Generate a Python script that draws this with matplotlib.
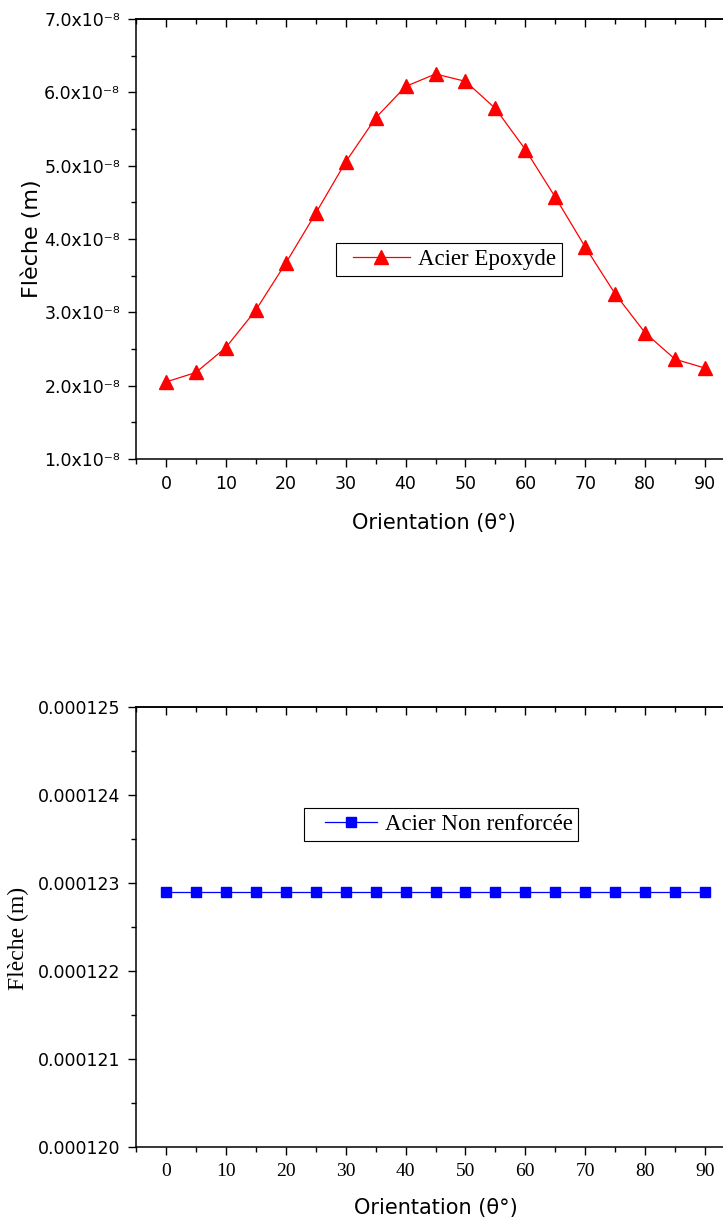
import matplotlib
matplotlib.use('Agg')
import matplotlib.pyplot as plt
from matplotlib.ticker import MultipleLocator, FuncFormatter
from matplotlib.legend_handler import HandlerLine2D

# ---- data ----
orientation = [0, 5, 10, 15, 20, 25, 30, 35, 40, 45, 50, 55, 60, 65, 70, 75, 80, 85, 90]
fleche_epoxyde = [2.05e-8, 2.18e-8, 2.52e-8, 3.03e-8, 3.67e-8, 4.35e-8, 5.05e-8, 5.65e-8,
                  6.08e-8, 6.25e-8, 6.15e-8, 5.78e-8, 5.22e-8, 4.57e-8, 3.89e-8, 3.25e-8,
                  2.72e-8, 2.36e-8, 2.24e-8]
fleche_non_renforcee = [1.229e-4, 1.229e-4, 1.229e-4, 1.229e-4, 1.229e-4, 1.229e-4, 1.229e-4,
                        1.229e-4, 1.229e-4, 1.229e-4, 1.229e-4, 1.229e-4, 1.229e-4, 1.229e-4,
                        1.229e-4, 1.229e-4, 1.229e-4, 1.229e-4, 1.229e-4]
label_epoxyde = "Acier Epoxyde"
label_non_renf = "Acier Non renforcée"
xlabel = "Orientation (θ°)"
ylabel = "Flèche (m)"

W, H = 723, 1222
fig = plt.figure(figsize=(W / 100, H / 100), dpi=100)

SANS = ['DejaVu Sans']
SERIF = ['Liberation Serif', 'DejaVu Serif']


def style_axes(ax, xfam, yfam):
    for s in ['left', 'bottom', 'top']:
        ax.spines[s].set_linewidth(1.1)
    ax.spines['right'].set_visible(False)
    ax.set_xlim(-5, 95)
    ax.xaxis.set_major_locator(MultipleLocator(10))
    ax.xaxis.set_minor_locator(MultipleLocator(5))
    ax.tick_params(axis='both', which='major', direction='out', length=6, width=1.0, pad=5.5)
    ax.tick_params(axis='both', which='minor', direction='out', length=3.3, width=1.0)
    ax.tick_params(axis='x', labelsize=14 if xfam == SERIF else 12.5, labelfontfamily=xfam[0])
    ax.tick_params(axis='y', labelsize=12.5, labelfontfamily=yfam[0])
    sec = ax.secondary_xaxis('top')
    sec.spines['top'].set_linewidth(1.1)
    sec.xaxis.set_major_locator(MultipleLocator(10))
    sec.xaxis.set_minor_locator(MultipleLocator(5))
    sec.tick_params(which='major', direction='in', length=6, width=1.0, labeltop=False)
    sec.tick_params(which='minor', direction='in', length=3.3, width=1.0)


# ---- top chart ----
ax1 = fig.add_axes([136 / W, 1 - 459 / H, 599 / W, 440 / H])
ax1.plot(orientation, fleche_epoxyde, color='#FF0000', linewidth=0.9, marker='^',
         markersize=10, markeredgecolor='#FF0000', markerfacecolor='#FF0000',
         label=label_epoxyde)
ax1.set_ylim(1e-8, 7e-8)
ax1.yaxis.set_major_locator(MultipleLocator(1e-8))
ax1.yaxis.set_minor_locator(MultipleLocator(0.5e-8))
ax1.yaxis.set_major_formatter(FuncFormatter(lambda v, p: f"{v * 1e8:.1f}x10\u207b\u2078"))
style_axes(ax1, SANS, SANS)
ax1.set_ylabel(ylabel, fontsize=16, family=SANS)
ax1.yaxis.set_label_coords(-0.157, 0.5)
ax1.set_xlabel(xlabel, fontsize=15, family=SANS)
ax1.xaxis.set_label_coords(0.4975, -0.123)

leg1 = ax1.legend(loc='upper left', bbox_to_anchor=(336 / W, 1 - 243 / H),
                  bbox_transform=fig.transFigure, borderaxespad=0, borderpad=0.25,
                  handlelength=2.97, handletextpad=0.35, frameon=True, fancybox=False,
                  framealpha=1, edgecolor='black', prop={'family': SERIF, 'size': 16.5},
                  handler_map={ax1.lines[0]: HandlerLine2D(xpad=0.49)})
leg1.get_frame().set_linewidth(0.8)

# ---- bottom chart ----
ax2 = fig.add_axes([136 / W, 1 - 1147 / H, 599 / W, 440 / H])
ax2.plot(orientation, fleche_non_renforcee, color='#0000FF', linewidth=0.9, marker='s',
         markersize=7.2, markeredgecolor='#0000FF', markerfacecolor='#0000FF',
         label=label_non_renf)
ax2.set_ylim(1.20e-4, 1.25e-4)
ax2.yaxis.set_major_locator(MultipleLocator(1e-6))
ax2.yaxis.set_minor_locator(MultipleLocator(0.5e-6))
ax2.yaxis.set_major_formatter(FuncFormatter(lambda v, p: f"{v:.6f}"))
style_axes(ax2, SERIF, SANS)
ax2.set_ylabel(ylabel, fontsize=17, family=SERIF)
ax2.yaxis.set_label_coords(-0.179, 0.473)
ax2.set_xlabel(xlabel, fontsize=15, family=SANS)
ax2.xaxis.set_label_coords(0.5, -0.117)

leg2 = ax2.legend(loc='upper left', bbox_to_anchor=(304 / W, 1 - 808 / H),
                  bbox_transform=fig.transFigure, borderaxespad=0, borderpad=0.25,
                  handlelength=2.92, handletextpad=0.35, frameon=True, fancybox=False,
                  framealpha=1, edgecolor='black', prop={'family': SERIF, 'size': 16.5},
                  handler_map={ax2.lines[0]: HandlerLine2D(xpad=0.66)})
leg2.get_frame().set_linewidth(0.8)

fig.savefig('out.png', dpi=100)
